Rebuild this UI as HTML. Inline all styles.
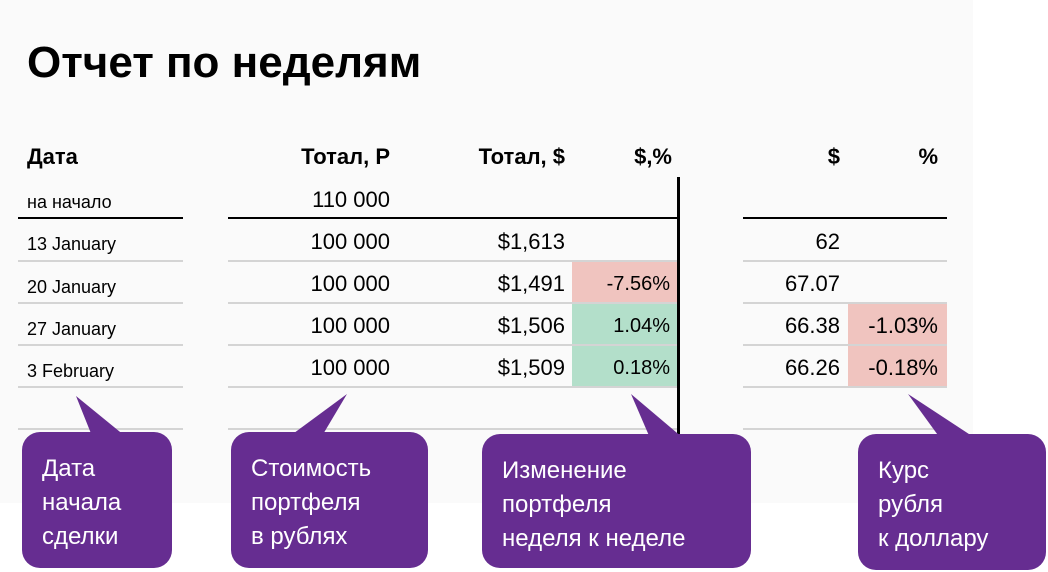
<!DOCTYPE html>
<html><head><meta charset="utf-8"><style>
body{margin:0;width:1048px;height:572px;background:#fff;position:relative;overflow:hidden;font-family:"Liberation Sans","Noto Sans CJK SC",sans-serif;color:#000}
.bg{position:absolute;left:0;top:0;width:973px;height:503px;background:#fafafa}
.a{position:absolute;white-space:nowrap}
.h{font-weight:bold;font-size:22px;top:144px}
.r{text-align:right}
.ln{position:absolute;height:2px;background:#d4d4d4}
.bk{background:#000}
.cell{position:absolute;height:40px}
.red{background:#f0c4bf}.grn{background:#b3dfca}
.box{position:absolute;background:#662d91;border-radius:18px;color:#fff;font-size:24px;line-height:34px;padding:20px 0 0 20px;box-sizing:border-box}
.d{font-size:18px}
.n{font-size:22px}
</style></head><body>
<div class="bg"></div>
<div class="a" style="left:27px;top:38px;font-size:44px;font-weight:bold">Отчет по неделям</div>

<div class="a h" style="left:27px">Дата</div>
<div class="a h r" style="right:658px">Тотал, Р</div>
<div class="a h r" style="right:483px">Тотал, $</div>
<div class="a h r" style="right:376px">$,%</div>
<div class="a h r" style="right:208px">$</div>
<div class="a h r" style="right:110px">%</div>

<div class="cell red" style="left:572px;width:105px;top:262px"></div>
<div class="cell grn" style="left:572px;width:105px;top:304px"></div>
<div class="cell grn" style="left:572px;width:105px;top:346px"></div>
<div class="cell red" style="left:848px;width:99px;top:304px"></div>
<div class="cell red" style="left:848px;width:99px;top:346px"></div>

<div class="ln bk" style="left:18px;width:165px;top:217px"></div>
<div class="ln bk" style="left:228px;width:451px;top:217px"></div>
<div class="ln bk" style="left:743px;width:204px;top:217px"></div>
<div class="ln" style="left:18px;width:165px;top:260px"></div><div class="ln" style="left:228px;width:449px;top:260px"></div><div class="ln" style="left:743px;width:204px;top:260px"></div>
<div class="ln" style="left:18px;width:165px;top:302px"></div><div class="ln" style="left:228px;width:449px;top:302px"></div><div class="ln" style="left:743px;width:204px;top:302px"></div>
<div class="ln" style="left:18px;width:165px;top:344px"></div><div class="ln" style="left:228px;width:449px;top:344px"></div><div class="ln" style="left:743px;width:204px;top:344px"></div>
<div class="ln" style="left:18px;width:165px;top:386px"></div><div class="ln" style="left:228px;width:449px;top:386px"></div><div class="ln" style="left:743px;width:204px;top:386px"></div>
<div class="ln" style="left:18px;width:165px;top:428px"></div><div class="ln" style="left:228px;width:449px;top:428px"></div><div class="ln" style="left:743px;width:204px;top:428px"></div>
<div class="a" style="left:677px;top:177px;width:3px;height:258px;background:#000"></div>

<div class="a d" style="left:27px;top:192px">на начало</div>
<div class="a n r" style="right:658px;top:187px">110 000</div>

<div class="a d" style="left:27px;top:234px">13 January</div>
<div class="a n r" style="right:658px;top:229px">100 000</div>
<div class="a n r" style="right:483px;top:229px">$1,613</div>
<div class="a n r" style="right:208px;top:229px">62</div>

<div class="a d" style="left:27px;top:277px">20 January</div>
<div class="a n r" style="right:658px;top:271px">100 000</div>
<div class="a n r" style="right:483px;top:271px">$1,491</div>
<div class="a r" style="right:378px;top:273px;font-size:20px">-7.56%</div>
<div class="a n r" style="right:208px;top:271px">67.07</div>

<div class="a d" style="left:27px;top:319px">27 January</div>
<div class="a n r" style="right:658px;top:313px">100 000</div>
<div class="a n r" style="right:483px;top:313px">$1,506</div>
<div class="a r" style="right:378px;top:315px;font-size:20px">1.04%</div>
<div class="a n r" style="right:208px;top:313px">66.38</div>
<div class="a n r" style="right:110px;top:313px">-1.03%</div>

<div class="a d" style="left:27px;top:361px">3 February</div>
<div class="a n r" style="right:658px;top:355px">100 000</div>
<div class="a n r" style="right:483px;top:355px">$1,509</div>
<div class="a r" style="right:378px;top:357px;font-size:20px">0.18%</div>
<div class="a n r" style="right:208px;top:355px">66.26</div>
<div class="a n r" style="right:110px;top:355px">-0.18%</div>

<svg class="a" style="left:0;top:0" width="1048" height="572">
<polygon points="76,396 92,436 125,436" fill="#662d91"/>
<polygon points="347,394 290,436 322,436" fill="#662d91"/>
<polygon points="631,394 650,438 683,438" fill="#662d91"/>
<polygon points="908,394 940,438 975,438" fill="#662d91"/>
</svg>
<div class="box" style="left:22px;top:432px;width:150px;height:136px">Дата<br>начала<br>сделки</div>
<div class="box" style="left:231px;top:432px;width:197px;height:136px">Стоимость<br>портфеля<br>в рублях</div>
<div class="box" style="left:482px;top:434px;width:269px;height:134px">Изменение<br>портфеля<br>неделя к неделе</div>
<div class="box" style="left:858px;top:434px;width:188px;height:136px">Курс<br>рубля<br>к доллару</div>
</body></html>
